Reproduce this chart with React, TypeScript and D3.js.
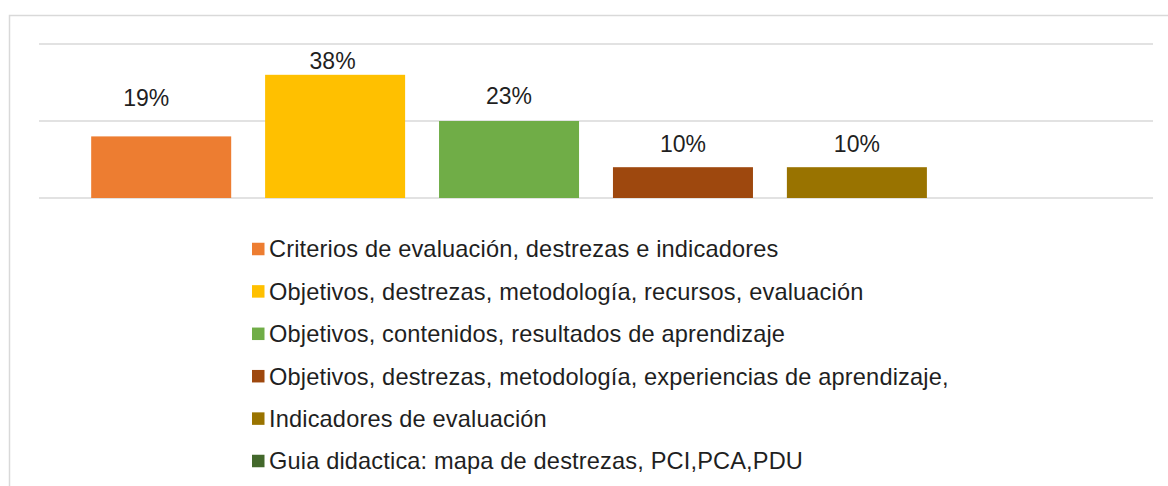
import React from "react";
import * as d3 from "d3";

const seriesNames: string[] = [
  "Criterios de evaluación, destrezas e indicadores",
  "Objetivos, destrezas, metodología, recursos, evaluación",
  "Objetivos, contenidos, resultados de aprendizaje",
  "Objetivos, destrezas, metodología, experiencias de aprendizaje,",
  "Indicadores de evaluación",
  "Guia didactica: mapa de destrezas, PCI,PCA,PDU",
];
const seriesValues: number[] = [4, 8, 5, 2, 2, 0];
const valueLabels: string[] = ["19%", "38%", "23%", "10%", "10%", ""];
const seriesColors: string[] = ["#ED7D31", "#FFC000", "#70AD47", "#9E480E", "#997300", "#43682B"];
const yTicks: number[] = [0, 5, 10];

// layout nudges for the manually placed data labels (dx, dy)
const labelNudgeX = [-15, -2.5, 0, 0, 0, 0];
const labelNudgeY = [-15, 9, -2, 0, 0, 0];

const W = 1168;
const H = 486;
const FONT = "'Liberation Sans', Arial, sans-serif";
const FS = 23;
const LFS = 23.6;

export default function App() {
  const x = d3
    .scaleBand<string>()
    .domain(seriesNames)
    .range([39, 1153])
    .paddingInner(0.195)
    .paddingOuter(0.3);
  const y = d3.scaleLinear().domain([0, 10]).range([198, 44]);

  const legendX = 252;
  const legendY0 = 249;
  const legendStep = 42.4;
  const sq = 12.5;

  return (
    <svg
      width={W}
      height={H}
      style={{ position: "absolute", left: 0, top: 0, background: "#fff" }}
      fontFamily={FONT}
    >
      <rect x={9.5} y={15.5} width={1300} height={600} fill="#fff" stroke="#d9d9d9" strokeWidth={1.5} />
      {yTicks.map((t) => (
        <line key={t} x1={39} x2={1153} y1={y(t)} y2={y(t)} stroke="#d9d9d9" strokeWidth={1.3} />
      ))}
      {seriesNames.map((s, i) => {
        const v = seriesValues[i];
        const bx = x(s)!;
        const top = y(v);
        return (
          <g key={s}>
            {v > 0 && (
              <rect x={bx} y={top} width={x.bandwidth()} height={y(0) - top} fill={seriesColors[i]} />
            )}
            {valueLabels[i] && (
              <text
                x={bx + x.bandwidth() / 2 + labelNudgeX[i]}
                y={top - 15 + labelNudgeY[i]}
                textAnchor="middle"
                fontSize={FS}
                fill="#1f1f1f"
              >
                {valueLabels[i]}
              </text>
            )}
          </g>
        );
      })}
      {seriesNames.map((s, i) => {
        const cy = legendY0 + i * legendStep;
        return (
          <g key={"lg" + i}>
            <rect x={legendX} y={cy - sq / 2} width={sq} height={sq} fill={seriesColors[i]} />
            <text
              x={legendX + 17}
              y={cy + (0.716 * LFS) / 2}
              fontSize={LFS}
              letterSpacing={0.15}
              fill="#1f1f1f"
            >
              {s}
            </text>
          </g>
        );
      })}
    </svg>
  );
}
